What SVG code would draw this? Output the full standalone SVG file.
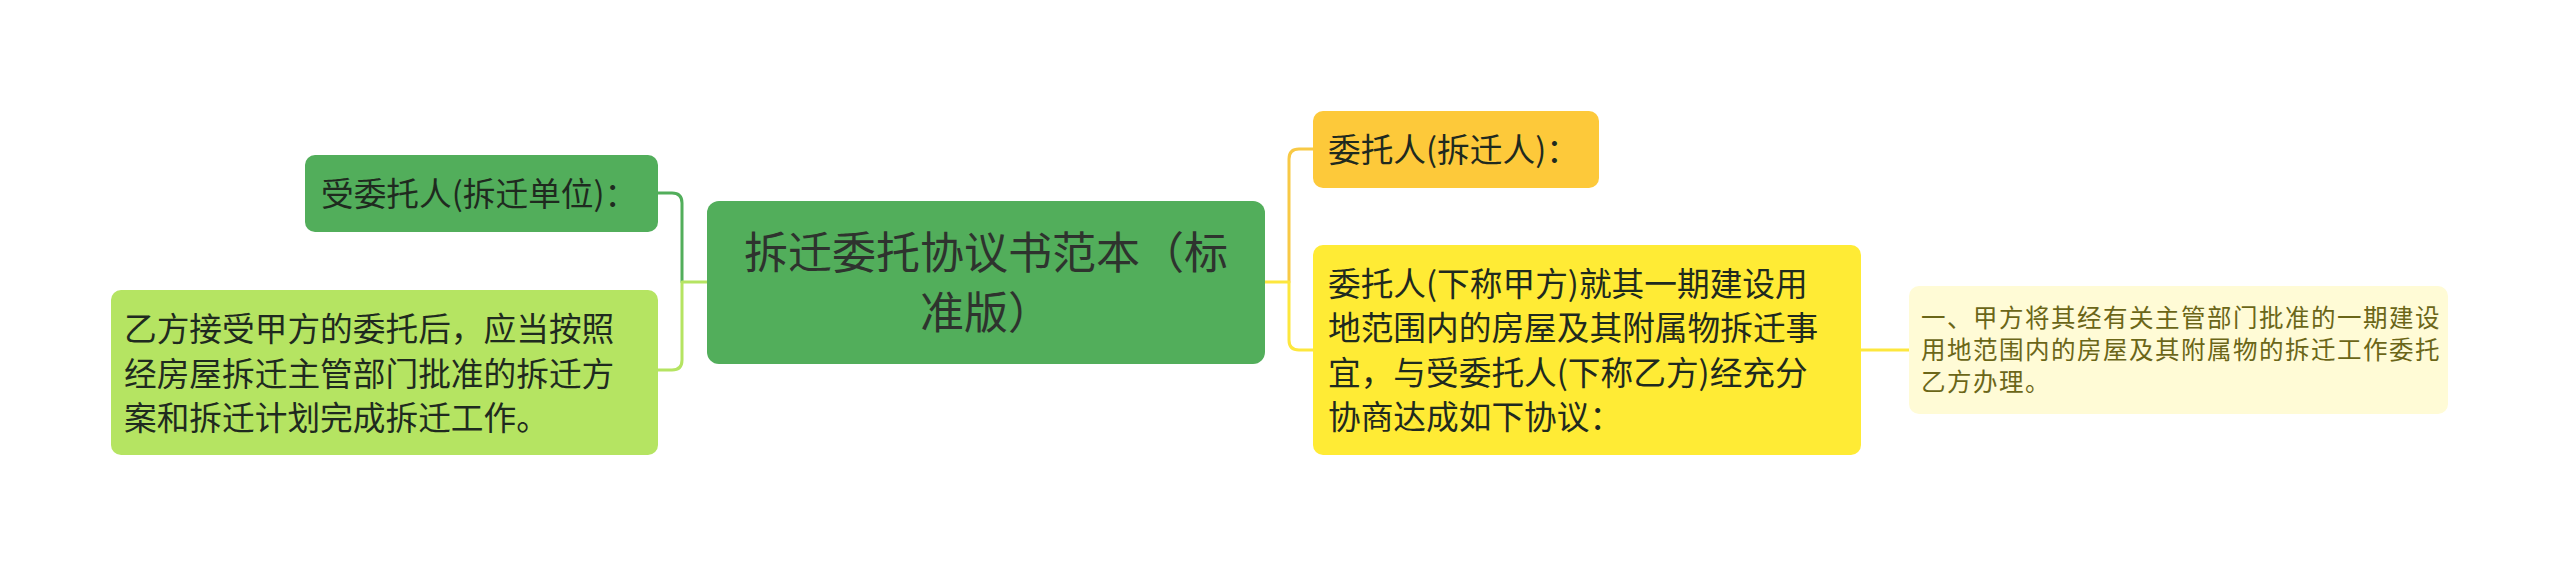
<svg xmlns="http://www.w3.org/2000/svg" width="2560" height="563" viewBox="0 0 2560 563">
<style>
text{font-family:"Noto Sans CJK SC","Noto Sans",sans-serif;}
.t0{font-size:44px;fill:#2e332e;text-anchor:middle;}
.t1{font-size:32.7px;fill:#1f2a1f;}
.t2{font-size:24.5px;letter-spacing:1.5px;fill:#6b6618;}
.c{fill:none;stroke-width:3;stroke-linecap:round;stroke-linejoin:round;}
</style>
<rect width="2560" height="563" fill="#ffffff"/>
<g id="connectors">
<path class="c" stroke="#52ae5b" d="M682,282 V203 Q682,193 672,193 H657"/>
<path class="c" stroke="#b5e462" d="M707,282 H682 V360 Q682,370 672,370 H657"/>
<path class="c" stroke="#f8c945" d="M1289,282 V159 Q1289,149 1299,149 H1313"/>
<path class="c" stroke="#fde73e" d="M1265,282 H1289 V340 Q1289,350 1299,350 H1313"/>
<path class="c" stroke="#fde73e" d="M1861,350 H1909"/>
</g>
<g id="center">
<rect x="707" y="201" width="558" height="163" rx="12" fill="#52ae5b"/>
<text class="t0" x="986" y="269">拆迁委托协议书范本（标</text>
<text class="t0" x="986" y="329">准版）</text>
</g>
<g id="node-left-1">
<rect x="305" y="155" width="353" height="77" rx="10" fill="#52ae5b"/>
<text class="t1" x="321" y="206">受委托人(拆迁单位)：</text>
</g>
<g id="node-left-2">
<rect x="111" y="290" width="547" height="165" rx="10" fill="#b5e462"/>
<text class="t1" x="124" y="341">乙方接受甲方的委托后，应当按照</text>
<text class="t1" x="124" y="386">经房屋拆迁主管部门批准的拆迁方</text>
<text class="t1" x="124" y="430">案和拆迁计划完成拆迁工作。</text>
</g>
<g id="node-right-1">
<rect x="1313" y="111" width="286" height="77" rx="10" fill="#fdc93a"/>
<text class="t1" x="1328" y="162">委托人(拆迁人)：</text>
</g>
<g id="node-right-2">
<rect x="1313" y="245" width="548" height="210" rx="10" fill="#ffeb35"/>
<text class="t1" x="1328" y="296">委托人(下称甲方)就其一期建设用</text>
<text class="t1" x="1328" y="340">地范围内的房屋及其附属物拆迁事</text>
<text class="t1" x="1328" y="385">宜，与受委托人(下称乙方)经充分</text>
<text class="t1" x="1328" y="429">协商达成如下协议：</text>
</g>
<g id="node-right-2-1">
<rect x="1909" y="286" width="539" height="128" rx="10" fill="#fffbd6"/>
<text class="t2" x="1921" y="327">一、甲方将其经有关主管部门批准的一期建设</text>
<text class="t2" x="1921" y="359">用地范围内的房屋及其附属物的拆迁工作委托</text>
<text class="t2" x="1921" y="391">乙方办理。</text>
</g>
</svg>
